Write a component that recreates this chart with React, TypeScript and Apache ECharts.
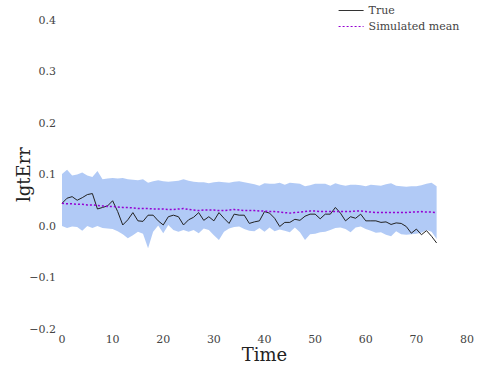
import React, { useEffect, useRef } from "react";
import * as echarts from "echarts";

const times: number[] = Array.from({ length: 75 }, (_, i) => i);

const trueValues: number[] = [
  0.044, 0.054, 0.057, 0.05, 0.055, 0.061, 0.063, 0.033, 0.036, 0.039,
  0.049, 0.028, 0.002, 0.012, 0.026, 0.01, 0.009, 0.021, 0.021, 0.01,
  0.002, 0.018, 0.021, 0.018, 0.002, 0.012, 0.017, 0.026, 0.011, 0.018,
  0.01, 0.026, 0.015, 0.005, 0.023, 0.021, 0.021, 0.005, 0.008, 0.01,
  0.028, 0.025, 0.015, -0.001, 0.007, 0.007, 0.013, 0.011, 0.019, 0.023,
  0.023, 0.014, 0.023, 0.023, 0.036, 0.025, 0.01, 0.018, 0.015, 0.023,
  0.01, 0.01, 0.01, 0.007, 0.008, 0.003, 0.006, 0.005, -0.001, -0.014,
  -0.006, -0.017, -0.009, -0.02, -0.033,
];

const simMean: number[] = [
  0.044, 0.043, 0.043, 0.042, 0.042, 0.041, 0.041, 0.04, 0.039, 0.038,
  0.038, 0.037, 0.036, 0.036, 0.035, 0.034, 0.034, 0.034, 0.033, 0.033,
  0.033, 0.032, 0.032, 0.033, 0.034, 0.032, 0.031, 0.03, 0.031, 0.031,
  0.031, 0.03, 0.03, 0.031, 0.032, 0.031, 0.03, 0.03, 0.03, 0.029,
  0.029, 0.028, 0.028, 0.027, 0.026, 0.025, 0.026, 0.027, 0.028, 0.029,
  0.029, 0.028, 0.028, 0.028, 0.028, 0.028, 0.028, 0.028, 0.029, 0.029,
  0.028, 0.027, 0.026, 0.026, 0.026, 0.026, 0.026, 0.026, 0.026, 0.027,
  0.027, 0.028, 0.027, 0.027, 0.026,
];

const bandUpper: number[] = [
  0.101, 0.109, 0.098, 0.1, 0.104, 0.098, 0.095, 0.107, 0.091, 0.092,
  0.093, 0.092, 0.093, 0.091, 0.09, 0.089, 0.091, 0.084, 0.087, 0.089,
  0.087, 0.086, 0.087, 0.088, 0.091, 0.088, 0.086, 0.085, 0.085, 0.083,
  0.085, 0.086, 0.085, 0.084, 0.086, 0.087, 0.085, 0.083, 0.081, 0.078,
  0.083, 0.082, 0.082, 0.084, 0.08, 0.084, 0.083, 0.082, 0.077, 0.079,
  0.082, 0.082, 0.082, 0.078, 0.083, 0.08, 0.078, 0.08, 0.08, 0.079,
  0.077, 0.08, 0.079, 0.078, 0.081, 0.083, 0.078, 0.077, 0.076, 0.077,
  0.077, 0.079, 0.082, 0.084, 0.077,
];

const bandLower: number[] = [
  0.0, -0.004, -0.001, -0.002, -0.009, 0.0, -0.004, 0.0, -0.004, -0.005,
  -0.006, -0.01, -0.016, -0.024, -0.018, -0.011, -0.015, -0.043, -0.011, 0.001,
  -0.014, 0.002, -0.008, -0.011, -0.008, -0.011, -0.008, -0.014, -0.005, -0.008,
  -0.018, -0.027, -0.011, -0.005, -0.002, -0.001, -0.006, -0.009, -0.01, -0.004,
  -0.011, -0.003, -0.01, -0.007, -0.009, -0.012, -0.003, -0.012, -0.027, -0.016,
  -0.015, -0.012, -0.011, -0.008, -0.004, -0.003, -0.006, -0.012, -0.003, -0.001,
  -0.006, -0.009, -0.013, -0.012, -0.017, -0.02, -0.01, -0.016, -0.017, -0.016,
  -0.015, -0.013, -0.008, -0.011, -0.025,
];

const xTicks = { min: 0, max: 80, interval: 10 };
const yTicks = { min: -0.2, max: 0.4, interval: 0.1 };

const FONT = "DejaVu Serif";

export default function App() {
  const ref = useRef<HTMLDivElement>(null);

  useEffect(() => {
    if (!ref.current) return;
    const chart = echarts.init(ref.current, null, { renderer: "svg" });
    const pair = (arr: number[]) => times.map((t, i) => [t, arr[i]]);
    chart.setOption({
      animation: false,
      backgroundColor: "#ffffff",
      grid: {
        left: 62,
        right: 12,
        top: 20,
        bottom: 42,
        containLabel: false,
        outerBoundsMode: "none",
      },
      legend: {
        orient: "vertical",
        left: 333,
        top: 0,
        itemWidth: 25,
        itemHeight: 10,
        itemGap: 5,
        data: [
          { name: "True", lineStyle: { width: 1, color: "#333" } },
          { name: "Simulated mean", lineStyle: { width: 1.2, color: "#9400D3" } },
        ],
        itemStyle: { opacity: 0 },
        textStyle: { fontFamily: FONT, fontSize: 11, color: "#444" },
      },
      xAxis: {
        type: "value",
        min: xTicks.min,
        max: xTicks.max,
        interval: xTicks.interval,
        name: "Time",
        nameLocation: "middle",
        nameGap: 16,
        nameMoveOverlap: false,
        nameTextStyle: { fontFamily: FONT, fontSize: 18, color: "#222" },
        axisLine: { show: false },
        axisTick: { show: false },
        splitLine: { show: false },
        axisLabel: {
          fontFamily: FONT,
          fontSize: 11,
          lineHeight: 11,
          color: "#444",
          margin: 5,
        },
      },
      yAxis: {
        type: "value",
        min: yTicks.min,
        max: yTicks.max,
        interval: yTicks.interval,
        name: "lgtErr",
        nameLocation: "middle",
        nameGap: 30,
        nameMoveOverlap: false,
        nameRotate: 90,
        nameTextStyle: { fontFamily: FONT, fontSize: 18, color: "#222" },
        axisLine: { show: false },
        axisTick: { show: false },
        splitLine: { show: false },
        axisLabel: {
          fontFamily: FONT,
          fontSize: 11,
          color: "#444",
          margin: 6,
          formatter: (v: number) => v.toFixed(1).replace("-", "\u2212"),
        },
      },
      series: [
        {
          name: "band",
          type: "custom",
          data: [[0, 0]],
          silent: true,
          z: 1,
          renderItem: (_params: any, api: any) => {
            const pts: number[][] = [];
            for (let i = 0; i < times.length; i++) pts.push(api.coord([times[i], bandUpper[i]]));
            for (let i = times.length - 1; i >= 0; i--) pts.push(api.coord([times[i], bandLower[i]]));
            return {
              type: "polygon",
              shape: { points: pts },
              style: { fill: "rgba(100,149,237,0.5)", stroke: "none" },
            };
          },
        },
        {
          name: "True",
          type: "line",
          data: pair(trueValues),
          symbol: "none",
          color: "#222222",
          lineStyle: { color: "#222222", width: 1 },
          z: 3,
        },
        {
          name: "Simulated mean",
          type: "line",
          data: pair(simMean),
          symbol: "none",
          color: "#9400D3",
          lineStyle: { color: "#9400D3", width: 1.5, type: [2, 2] },
          z: 4,
        },
      ],
    });
    return () => chart.dispose();
  }, []);

  return (
    <div
      ref={ref}
      style={{ position: "fixed", left: 0, top: 0, width: 479, height: 371 }}
    />
  );
}
